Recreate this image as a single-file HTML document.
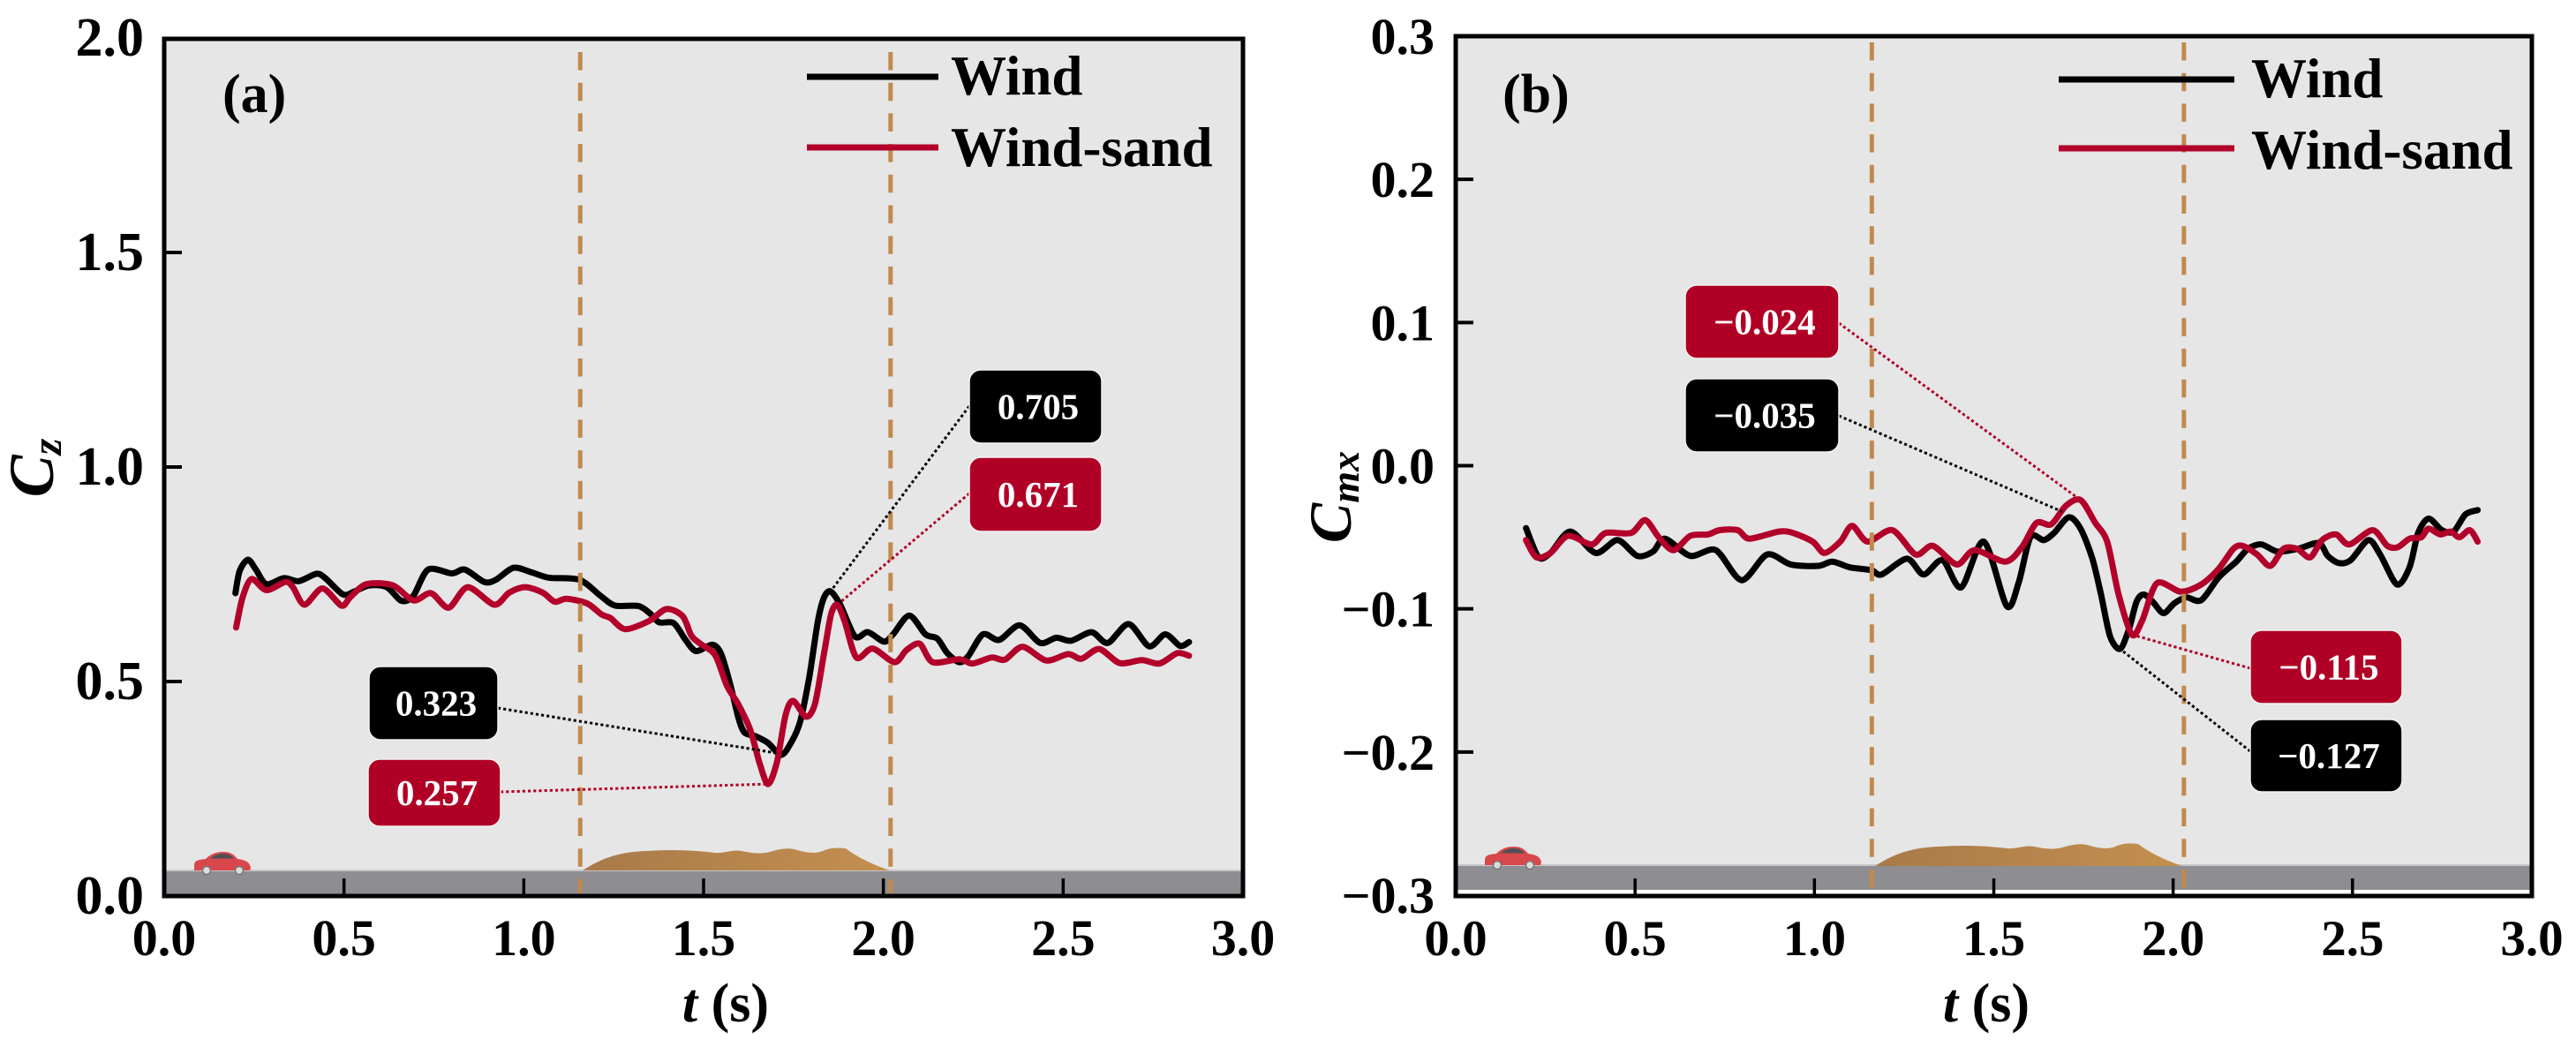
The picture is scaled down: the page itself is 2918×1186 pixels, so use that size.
<!DOCTYPE html>
<html lang="en">
<head>
<meta charset="utf-8">
<title>Cz and Cmx versus time under wind and wind-sand conditions</title>
<style>
html,body{margin:0;padding:0;background:#fff;width:2918px;height:1186px;overflow:hidden}
svg{display:block}
text{font-family:"Liberation Serif",serif;font-weight:bold;fill:#000}
</style>
</head>
<body>
<svg id="figure" xmlns="http://www.w3.org/2000/svg" width="2918" height="1186" viewBox="0 0 2918 1186">
<defs>
<linearGradient id="sandFill" x1="0" x2="1" y1="0" y2="0">
<stop offset="0" stop-color="#a87a4a"/><stop offset="1" stop-color="#c4904f"/>
</linearGradient>
<g id="car">
<path d="M1 16 C1 10 4 9 14 8 C20 2 26 0 34 0 C42 0 46 3 50 8 C58 9 64 11 65 18 L64 21 L1 21 Z" fill="#d8474b"/>
<path d="M19 7.5 C24 3 29 2 34 2 C40 2 43 4 46 7.5 Z" fill="#4f4f55"/>
<circle cx="15" cy="21" r="4.5" fill="#dcdcdc" stroke="#777" stroke-width="1.5"/>
<circle cx="52" cy="21" r="4.5" fill="#dcdcdc" stroke="#777" stroke-width="1.5"/>
</g>
<path id="sand" d="M0 26 C20 13 40 5 72 4 C100 2 125 3 150 6 C160 7 170 2 180 4 C190 6 200 8 212 5 C222 2 232 0 240 2 C250 5 262 8 272 4 C280 0 290 0 298 1 C310 10 325 18 348 26 Z" fill="url(#sandFill)"/>
</defs>
<rect x="0" y="0" width="2918" height="1186" fill="#fff"/>
<g id="panelA">
<rect x="186" y="43" width="1222" height="972" fill="#e6e6e6"/>
<rect x="186" y="986" width="1222" height="28" fill="#8e8d92"/>
<rect x="186" y="985" width="1222" height="2" fill="#c6c6c8"/>
<use href="#sand" transform="translate(660,960)"/>
<use href="#car" transform="translate(219,965)"/>
<g id="layerA"></g>
<rect x="186" y="44" width="1222" height="971" fill="none" stroke="#000" stroke-width="5"/>
<text x="252" y="127" font-size="62">(a)</text>
<line x1="914" x2="1063" y1="87" y2="87" stroke="#000" stroke-width="7"/>
<line x1="914" x2="1063" y1="167" y2="167" stroke="#b2002a" stroke-width="7"/>
<text x="1077" y="107" font-size="63">Wind</text>
<text x="1077" y="188" font-size="63">Wind-sand</text>
<text transform="translate(60,530) rotate(-90)" text-anchor="middle" font-size="72" font-style="italic">C<tspan font-size="48" dy="9">z</tspan></text>
<text x="822" y="1157" text-anchor="middle" font-size="62"><tspan font-style="italic">t</tspan> (s)</text>
</g>
<g id="panelB">
<rect x="1649" y="41" width="1219" height="973" fill="#e6e6e6"/>
<rect x="1649" y="980" width="1219" height="28" fill="#8e8d92"/>
<rect x="1649" y="979" width="1219" height="2" fill="#c6c6c8"/>
<rect x="1649" y="1008" width="1219" height="4" fill="#fff"/>
<use href="#sand" transform="translate(2124,955)"/>
<use href="#car" transform="translate(1681,959)"/>
<g id="layerB"></g>
<rect x="1649" y="41" width="1219" height="974" fill="none" stroke="#000" stroke-width="5"/>
<text x="1702" y="127" font-size="62">(b)</text>
<line x1="2332" x2="2531" y1="90" y2="90" stroke="#000" stroke-width="7"/>
<line x1="2332" x2="2531" y1="168" y2="168" stroke="#b2002a" stroke-width="7"/>
<text x="2550" y="110" font-size="63">Wind</text>
<text x="2550" y="191" font-size="63">Wind-sand</text>
<text transform="translate(1530,563) rotate(-90)" text-anchor="middle" font-size="68" font-style="italic">C<tspan font-size="46" dy="9">mx</tspan></text>
<text x="2250" y="1157" text-anchor="middle" font-size="62"><tspan font-style="italic">t</tspan> (s)</text>
</g>
</svg>
<script>
var xTickLabels = ['0.0','0.5','1.0','1.5','2.0','2.5','3.0'];
var yTickLabelsA = ['0.0','0.5','1.0','1.5','2.0'];
var yTickLabelsB = ['\u22120.3','\u22120.2','\u22120.1','0.0','0.1','0.2','0.3'];
var sandBoundsA = [1.157, 2.02];
var sandBoundsB = [1.16, 2.03];

var windTimesA = [.198,.210,.233,.255,.284,.333,.374,.423,.448,.497,.529,.570,.619,.660,.693,.734,.800,.836,.890,.922,.971,1.020,1.070,1.155,1.213,1.254,1.319,1.352,1.376,1.417,1.450,1.479,1.524,1.548,1.573,1.597,1.614,1.646,1.679,1.716,1.745,1.769,1.794,1.818,1.835,1.853,1.880,1.921,1.957,2.002,2.027,2.072,2.117,2.150,2.178,2.211,2.236,2.277,2.322,2.379,2.436,2.481,2.522,2.579,2.624,2.682,2.739,2.784,2.825,2.850];
var windCz = [.706,.758,.784,.761,.727,.741,.734,.751,.741,.703,.710,.724,.720,.688,.700,.761,.752,.761,.732,.737,.765,.755,.742,.737,.700,.677,.676,.658,.638,.636,.597,.571,.586,.566,.497,.415,.381,.372,.357,.329,.360,.408,.511,.641,.696,.710,.679,.605,.615,.593,.610,.654,.610,.600,.566,.545,.559,.610,.597,.631,.590,.602,.595,.615,.590,.634,.582,.610,.583,.592];
var sandTimesA = [.200,.218,.243,.284,.337,.358,.390,.440,.493,.517,.562,.636,.693,.742,.791,.844,.918,.959,1.004,1.053,1.086,1.119,1.176,1.217,1.241,1.282,1.348,1.397,1.442,1.466,1.491,1.532,1.565,1.597,1.630,1.655,1.679,1.704,1.728,1.749,1.785,1.810,1.835,1.855,1.872,1.892,1.925,1.970,2.031,2.064,2.101,2.137,2.211,2.248,2.301,2.338,2.387,2.453,2.514,2.551,2.600,2.657,2.719,2.768,2.817,2.850];
var sandCz = [.626,.696,.739,.713,.732,.720,.679,.717,.677,.696,.727,.724,.689,.706,.672,.720,.679,.707,.720,.707,.686,.693,.682,.656,.648,.622,.641,.669,.652,.607,.588,.562,.490,.446,.387,.312,.261,.312,.422,.455,.418,.449,.566,.658,.679,.641,.556,.577,.545,.573,.588,.545,.552,.542,.556,.551,.581,.549,.564,.553,.576,.543,.550,.542,.566,.560];

var windTimesB = [.196,.231,.264,.319,.390,.451,.506,.550,.583,.654,.725,.797,.868,.934,1.011,1.050,1.099,1.159,1.187,1.258,1.304,1.357,1.409,1.472,1.536,1.569,1.602,1.639,1.668,1.709,1.742,1.775,1.799,1.824,1.852,1.877,1.898,1.918,1.943,1.973,2.004,2.037,2.078,2.127,2.176,2.209,2.246,2.291,2.349,2.406,2.431,2.462,2.495,2.544,2.577,2.624,2.659,2.683,2.712,2.749,2.782,2.815,2.849];
var windCmx = [-.0436,-.064,-.061,-.046,-.061,-.052,-.063,-.060,-.051,-.063,-.059,-.080,-.062,-.069,-.070,-.067,-.071,-.073,-.076,-.065,-.076,-.066,-.085,-.053,-.098,-.082,-.050,-.052,-.047,-.036,-.044,-.065,-.090,-.119,-.128,-.114,-.095,-.090,-.095,-.103,-.096,-.092,-.094,-.078,-.067,-.058,-.055,-.060,-.058,-.054,-.063,-.068,-.066,-.052,-.062,-.083,-.071,-.047,-.037,-.045,-.046,-.034,-.031];
var sandTimesB = [.196,.225,.264,.313,.379,.418,.489,.528,.566,.607,.654,.703,.736,.786,.819,.901,.940,.995,1.028,1.072,1.105,1.148,1.217,1.282,1.330,1.397,1.446,1.532,1.578,1.619,1.660,1.701,1.742,1.783,1.816,1.848,1.885,1.914,1.955,2.021,2.078,2.127,2.168,2.193,2.234,2.271,2.308,2.345,2.382,2.415,2.454,2.491,2.556,2.597,2.626,2.659,2.692,2.712,2.745,2.774,2.798,2.827,2.849];
var sandCmx = [-.052,-.064,-.061,-.049,-.055,-.047,-.047,-.038,-.050,-.059,-.049,-.048,-.045,-.045,-.051,-.046,-.047,-.053,-.061,-.053,-.042,-.053,-.045,-.062,-.056,-.069,-.059,-.067,-.057,-.040,-.041,-.028,-.024,-.040,-.053,-.090,-.118,-.108,-.082,-.088,-.083,-.072,-.058,-.056,-.062,-.070,-.058,-.058,-.064,-.052,-.048,-.055,-.045,-.056,-.057,-.051,-.050,-.044,-.048,-.046,-.050,-.045,-.053];

var calloutLabelsA = ['0.323','0.257','0.705','0.671'];
var calloutTimesA = [1.705,1.679,1.853,1.872];
var calloutValuesA = [.333,.261,.710,.679];
var calloutLabelsB = ['\u22120.024','\u22120.035','\u22120.115','\u22120.127'];
var calloutTimesB = [1.742,1.690,1.885,1.852];
var calloutValuesB = [-.024,-.032,-.118,-.128];

var NS = 'http://www.w3.org/2000/svg';
var BLACK = '#000000';
var RED = '#b2002a';
var BOX_RED = '#b10026';

function xA(t){return 186 + t * 407.33;}
function yA(v){return 1015 - v * 486;}
function xB(t){return 1649 + t * 406.33;}
function yB(v){return 41 + (0.3 - v) * 1621.7;}

function mk(parent, tag, attrs){
  var el = document.createElementNS(NS, tag);
  for (var k in attrs) el.setAttribute(k, attrs[k]);
  parent.appendChild(el);
  return el;
}

function smoothPath(times, values, fx, fy){
  var p = times.map(function(t, i){return [fx(t), fy(values[i])];});
  var d = 'M' + p[0][0].toFixed(1) + ' ' + p[0][1].toFixed(1);
  for (var i = 0; i < p.length - 1; i++){
    var a = p[Math.max(i - 1, 0)], b = p[i], c = p[i + 1], e = p[Math.min(i + 2, p.length - 1)];
    var c1x = b[0] + (c[0] - a[0]) / 7, c1y = b[1] + (c[1] - a[1]) / 7;
    var c2x = c[0] - (e[0] - b[0]) / 7, c2y = c[1] - (e[1] - b[1]) / 7;
    d += 'C' + c1x.toFixed(1) + ' ' + c1y.toFixed(1) + ' ' + c2x.toFixed(1) + ' ' + c2y.toFixed(1) + ' ' + c[0].toFixed(1) + ' ' + c[1].toFixed(1);
  }
  return d;
}

function drawCurve(layer, times, values, fx, fy, color, name){
  var el = mk(layer, 'path', {d: smoothPath(times, values, fx, fy), fill: 'none', stroke: color, 'stroke-width': 7, 'stroke-linejoin': 'round', 'stroke-linecap': 'round'});
  
  
}

function drawBound(layer, t, fx, top, bottom, name){
  var el = mk(layer, 'line', {x1: fx(t), x2: fx(t), y1: top, y2: bottom, stroke: '#c08a4e', 'stroke-width': 5, 'stroke-dasharray': '20.5 14.2'});
  
  
}

function drawCallout(layer, label, t, v, fx, fy, box, anchorX, anchorY, color){
  var leader = mk(layer, 'line', {x1: anchorX, y1: anchorY, x2: fx(t), y2: fy(v), stroke: color, 'stroke-width': 3, 'stroke-dasharray': '3.2 3'});
  
  
  var rect = mk(layer, 'rect', {x: box[0], y: box[1], width: box[2], height: box[3], rx: 13, ry: 13, fill: color, stroke: '#f2f2f2', 'stroke-width': 1.5});
  
  
  var txt = mk(layer, 'text', {x: box[0] + box[2] / 2 + 3, y: box[1] + box[3] / 2 + 14, 'text-anchor': 'middle', 'font-size': 41});
  
  
  txt.style.fill = '#fff';
  txt.textContent = label;
}

function drawTicks(layer, fx, fy, labelsX, xStep, labelsY, yMin, yStep, left, bottom, yFont, yRight, xFont){
  labelsX.forEach(function(lab, i){
    var x = fx(i * xStep);
    if (i > 0 && i < labelsX.length - 1){
      var tk = mk(layer, 'line', {x1: x, x2: x, y1: bottom, y2: bottom - 20, stroke: '#000', 'stroke-width': 3.5});
      
      
    }
    var tl = mk(layer, 'text', {x: x, y: 1082, 'text-anchor': 'middle', 'font-size': xFont});
    
    
    tl.textContent = lab;
  });
  labelsY.forEach(function(lab, i){
    var y = fy(yMin + i * yStep);
    if (i > 0 && i < labelsY.length - 1){
      var tk = mk(layer, 'line', {x1: left, x2: left + 20, y1: y, y2: y, stroke: '#000', 'stroke-width': 4});
      
      
    }
    var tl = mk(layer, 'text', {x: yRight, y: y + 20, 'text-anchor': 'end', 'font-size': yFont});
    
    
    tl.textContent = lab;
  });
}

var layerA = document.getElementById('layerA');
drawCurve(layerA, windTimesA, windCz, xA, yA, BLACK, 'series-wind-cz');
drawCurve(layerA, sandTimesA, sandCz, xA, yA, RED, 'series-wind-sand-cz');
drawBound(layerA, sandBoundsA[0], xA, 59, 1012, 'sand-start-line-a');
drawBound(layerA, sandBoundsA[1], xA, 59, 1012, 'sand-end-line-a');
drawCallout(layerA, calloutLabelsA[0], calloutTimesA[0], calloutValuesA[0], xA, yA, [418,755,146,83], 564, 802, BLACK);
drawCallout(layerA, calloutLabelsA[1], calloutTimesA[1], calloutValuesA[1], xA, yA, [417,860,150,76], 567, 897, BOX_RED);
drawCallout(layerA, calloutLabelsA[2], calloutTimesA[2], calloutValuesA[2], xA, yA, [1098,419,150,83], 1098, 460, BLACK);
drawCallout(layerA, calloutLabelsA[3], calloutTimesA[3], calloutValuesA[3], xA, yA, [1098,518,150,84], 1098, 559, BOX_RED);
drawTicks(layerA, xA, yA, xTickLabels, 0.5, yTickLabelsA, 0, 0.5, 186, 1015, 62, 163, 58);

var layerB = document.getElementById('layerB');
drawCurve(layerB, windTimesB, windCmx, xB, yB, BLACK, 'series-wind-cmx');
drawCurve(layerB, sandTimesB, sandCmx, xB, yB, RED, 'series-wind-sand-cmx');
drawBound(layerB, sandBoundsB[0], xB, 48, 1008, 'sand-start-line-b');
drawBound(layerB, sandBoundsB[1], xB, 48, 1008, 'sand-end-line-b');
drawCallout(layerB, calloutLabelsB[0], calloutTimesB[0], calloutValuesB[0], xB, yB, [1909,323,174,83], 2083, 366, BOX_RED);
drawCallout(layerB, calloutLabelsB[1], calloutTimesB[1], calloutValuesB[1], xB, yB, [1909,429,174,83], 2083, 471, BLACK);
drawCallout(layerB, calloutLabelsB[2], calloutTimesB[2], calloutValuesB[2], xB, yB, [2549,714,172,83], 2549, 757, BOX_RED);
drawCallout(layerB, calloutLabelsB[3], calloutTimesB[3], calloutValuesB[3], xB, yB, [2549,815,172,82], 2549, 851, BLACK);
drawTicks(layerB, xB, yB, xTickLabels, 0.5, yTickLabelsB, -0.3, 0.1, 1649, 1015, 58, 1625, 57);
</script>
</body>
</html>
